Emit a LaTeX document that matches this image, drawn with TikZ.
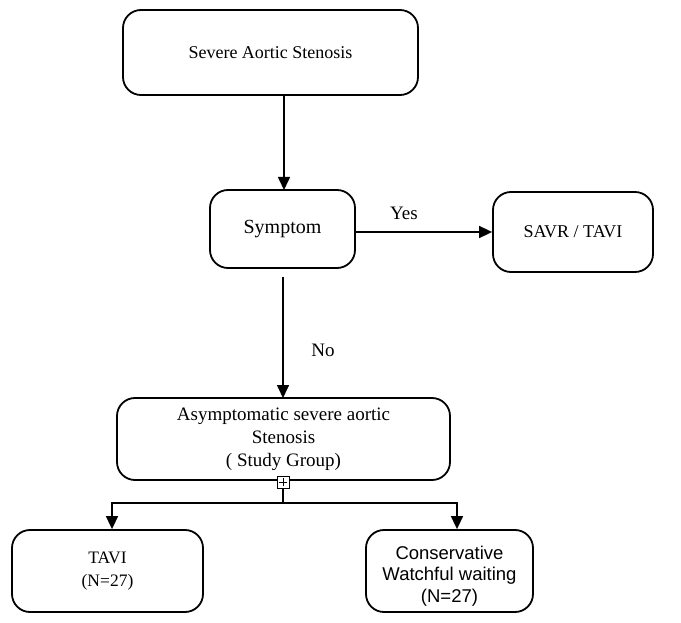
\documentclass[tikz,border=0pt]{standalone}
\usepackage{fontspec}
\setmainfont{Liberation Serif}
\newfontfamily\sansf{Liberation Sans}
\usetikzlibrary{arrows.meta}
\newcommand\fsz[1]{\fontsize{#1}{23}\selectfont}
\begin{document}
\begin{tikzpicture}[x=1pt,y=-1pt,
  box/.style={draw, line width=1.8pt, rounded corners=18pt, align=center, inner sep=0pt, font=\fsz{19}},
  conn/.style={line width=1.6pt, -{Triangle[length=13pt,width=12pt]}},
  plain/.style={line width=1.6pt},
  lbl/.style={font=\fsz{19}}]
\useasboundingbox (0,0) rectangle (681,623);
\node[box, minimum width=295pt, minimum height=85pt, font=\fsz{18}] (top) at (270.5,52.5) {Severe Aortic Stenosis};
\node[box, minimum width=145pt, minimum height=78pt, font=\fsz{20}] (sym) at (282.5,229) {Symptom};
\node[box, minimum width=160pt, minimum height=80pt, font=\fsz{18}] (savr) at (573,232) {SAVR / TAVI};
\node[box, minimum width=333pt, minimum height=82pt, font=\fsz{19}] (asym) at (283.5,439) {Asymptomatic severe aortic\\Stenosis\\( Study Group)};
\node[box, minimum width=191pt, minimum height=82pt, font=\fsz{17.5}] (tavi) at (107.5,571) {TAVI\\(N=27)};
\node[box, minimum width=167pt, minimum height=82pt, font=\sansf\fontsize{18.5}{21.5}\selectfont] (cons) at (449.5,571) {};
\node[font=\sansf\fontsize{18.5}{21.5}\selectfont, align=center, inner sep=0pt] (constext) at (449.5,576) {Conservative\\Watchful waiting\\(N=27)};
\node[draw, line width=1pt, minimum size=12pt, inner sep=0pt, fill=white] (plus) at (283,482) {};
\draw[line width=0.8pt] (plus.north) ++(0,2) -- ++(0,8) (plus.west) ++(2,0) -- ++(8,0);
\coordinate (a1) at (284,95);
\coordinate (a2) at (284,190);
\draw[conn] (a1) -- (a2);
\draw[conn] (sym.east |- 0,232) -- (savr.west |- 0,232);
\node[lbl] (yes) at (404,213) {Yes};
\coordinate (n1) at (283,277);
\coordinate (n2) at (283,398);
\draw[conn] (n1) -- (n2);
\node[lbl] (no) at (323,350) {No};
\coordinate (j) at (283,503);
\coordinate (jl) at (112,503);
\coordinate (jr) at (457,503);
\draw[plain] (plus.south) -- (j);
\draw[conn] (j) -- (jl) -- (jl |- tavi.north);
\draw[conn] (j) -- (jr) -- (jr |- cons.north);
\end{tikzpicture}
\end{document}
